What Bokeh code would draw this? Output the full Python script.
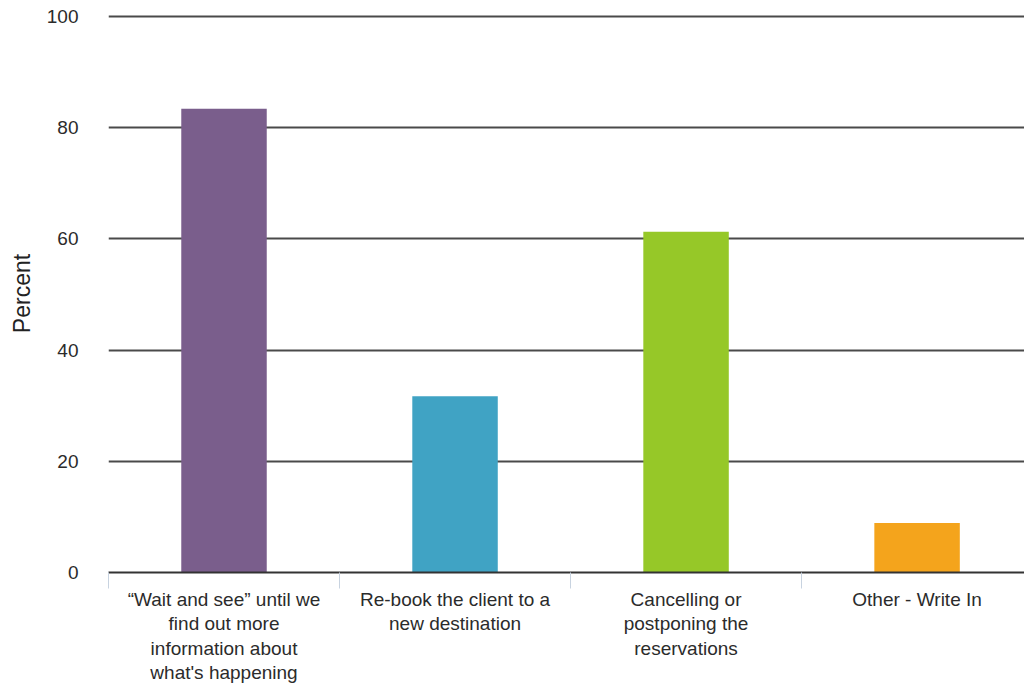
from bokeh.plotting import figure
from bokeh.models import Range1d, FixedTicker, ColumnDataSource
from bokeh.embed import file_html
from bokeh.resources import INLINE

categories = [
    "\u201cWait and see\u201d until we\nfind out more\ninformation about\nwhat's happening",
    "Re-book the client to a\nnew destination",
    "Cancelling or\npostponing the\nreservations",
    "Other - Write In",
]
values = [83.4, 31.7, 61.3, 8.9]
colors = ["#7a5e8c", "#40a3c4", "#96c828", "#f4a41c"]
y_ticks = [0, 20, 40, 60, 80, 100]

xs = [i + 0.5 for i in range(len(categories))]
src = ColumnDataSource(dict(x=xs, top=values, color=colors))

p = figure(width=1024, height=687, output_backend="svg", toolbar_location=None,
           x_range=Range1d(0, 3.965), y_range=Range1d(0, 100.36),
           min_border_left=108, min_border_right=0, min_border_top=14, min_border_bottom=115)
p.outline_line_color = None
p.background_fill_color = "white"

p.vbar(x="x", top="top", width=0.37, fill_color="color", line_color=None, source=src)

# y axis
p.yaxis.ticker = FixedTicker(ticks=y_ticks)
p.yaxis.axis_line_color = None
p.yaxis.major_tick_line_color = None
p.yaxis.minor_tick_line_color = None
p.yaxis.major_label_text_font = "Liberation Sans"
p.yaxis.major_label_text_font_size = "19px"
p.yaxis.major_label_text_color = "#2b2b2b"
p.yaxis.major_label_standoff = 24
p.yaxis.axis_label = "Percent"
p.yaxis.axis_label_text_font = "Liberation Sans"
p.yaxis.axis_label_text_font_size = "23px"
p.yaxis.axis_label_text_font_style = "normal"
p.yaxis.axis_label_text_color = "#222222"
p.yaxis.axis_label_standoff = 9

p.ygrid.ticker = FixedTicker(ticks=[20, 40, 60, 80, 100])
p.ygrid.grid_line_color = "#4a4a4a"
p.ygrid.grid_line_width = 2
p.xgrid.grid_line_color = None

# x axis
p.xaxis.ticker = FixedTicker(ticks=xs, minor_ticks=[0, 1, 2, 3])
p.xaxis.major_label_overrides = {x: c for x, c in zip(xs, categories)}
p.xaxis.axis_line_color = "#333333"
p.xaxis.axis_line_width = 2
p.xaxis.major_tick_line_color = None
p.xaxis.major_tick_out = 0
p.xaxis.major_tick_in = 0
p.xaxis.minor_tick_line_color = "#c8d3e0"
p.xaxis.minor_tick_out = 16
p.xaxis.minor_tick_in = 0
p.xaxis.major_label_text_font = "Liberation Sans"
p.xaxis.major_label_text_font_size = "19px"
p.xaxis.major_label_text_color = "#2b2b2b"
p.xaxis.major_label_text_line_height = 1.17
p.xaxis.major_label_standoff = 0

open("out.html", "w").write(file_html(p, INLINE))
